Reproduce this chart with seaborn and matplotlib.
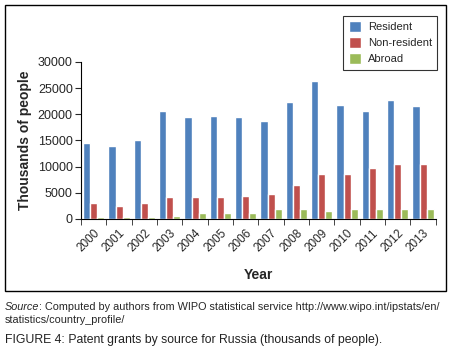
import numpy as np
import pandas as pd
import seaborn as sns
import matplotlib.pyplot as plt
from matplotlib.patches import Rectangle

sns.set_style("white")
plt.rcParams['font.family'] = ['Liberation Sans', 'DejaVu Sans']

# Data
years = ["2000", "2001", "2002", "2003", "2004", "2005", "2006",
         "2007", "2008", "2009", "2010", "2011", "2012", "2013"]
resident = [14600, 13850, 15100, 20700, 19400, 19600, 19400,
            18650, 22400, 26400, 21800, 20550, 22750, 21600]
non_resident = [3100, 2550, 3100, 4250, 4100, 4100, 4300,
                4700, 6500, 8650, 8650, 9800, 10400, 10400]
abroad = [450, 400, 400, 600, 1150, 1150, 1150,
          1950, 1800, 1600, 1950, 1800, 1800, 1950]
series = ["Resident", "Non-resident", "Abroad"]
colors = ["#4F81BD", "#C0504D", "#9BBB59"]

df = pd.DataFrame({"Year": years * 3,
                   "value": resident + non_resident + abroad,
                   "source": np.repeat(series, len(years))})

fig = plt.figure(figsize=(4.53, 3.48), dpi=100)
ax = fig.add_axes([0.179, 0.371, 0.783, 0.451])

sns.barplot(data=df, x="Year", y="value", hue="source", palette=colors,
            width=0.84, saturation=1, ax=ax)

ax.set_ylim(0, 30000)
ax.set_yticks(range(0, 30001, 5000))
ax.set_xlim(-0.5, len(years) - 0.5)
ax.set_xticks(np.arange(-0.5, len(years), 1), minor=True)
ax.tick_params(axis="x", which="major", length=0, pad=6)
ax.tick_params(axis="x", which="minor", length=4, direction="out", bottom=True)
ax.tick_params(axis="y", length=4, direction="out", left=True, labelsize=9, pad=2)
ax.set_xticklabels(years, rotation=45, ha="right", rotation_mode="anchor", fontsize=8.5)
sns.despine(ax=ax)
ax.spines["left"].set_color("black")
ax.spines["bottom"].set_color("black")

ax.set_ylabel("Thousands of people", fontsize=10, fontweight="bold")
ax.set_xlabel("Year", fontsize=10, fontweight="bold", labelpad=10)

leg = ax.legend(loc="upper right", fontsize=8, frameon=True, fancybox=False,
                edgecolor="black", handlelength=1.1, handleheight=1.1,
                borderpad=0.5, labelspacing=0.45, handletextpad=0.6)
leg.get_frame().set_linewidth(0.8)
leg.set_bbox_to_anchor((443 / 453, 1 - 10 / 348), transform=fig.transFigure)

# Outer frame around the chart
fig.patches.append(Rectangle((5 / 453, 1 - 291 / 348), 441 / 453, 286 / 348,
                             transform=fig.transFigure, fill=False,
                             edgecolor="black", linewidth=1.0))


def text_run(parts, x, y, size):
    # place consecutive text pieces on one line
    fig.canvas.draw()
    r = fig.canvas.get_renderer()
    for s, kw in parts:
        t = fig.text(x, y, s, fontsize=size, va="center", **kw)
        bb = t.get_window_extent(renderer=r)
        x = (bb.x1) / fig.bbox.width


text_run([("Source", {"style": "italic"}),
          (": Computed by authors from WIPO statistical service http://www.wipo.int/ipstats/en/", {})],
         5 / 453, 1 - 307 / 348, 7.8)
fig.text(5 / 453, 1 - 320 / 348, "statistics/country_profile/", fontsize=7.8, va="center")
text_run([("FIGURE 4:", {"color": "#222222"}),
          (" Patent grants by source for Russia (thousands of people).", {"color": "#222222"})],
         5 / 453, 1 - 340 / 348, 8.8)

fig.savefig("out.png", dpi=100)
